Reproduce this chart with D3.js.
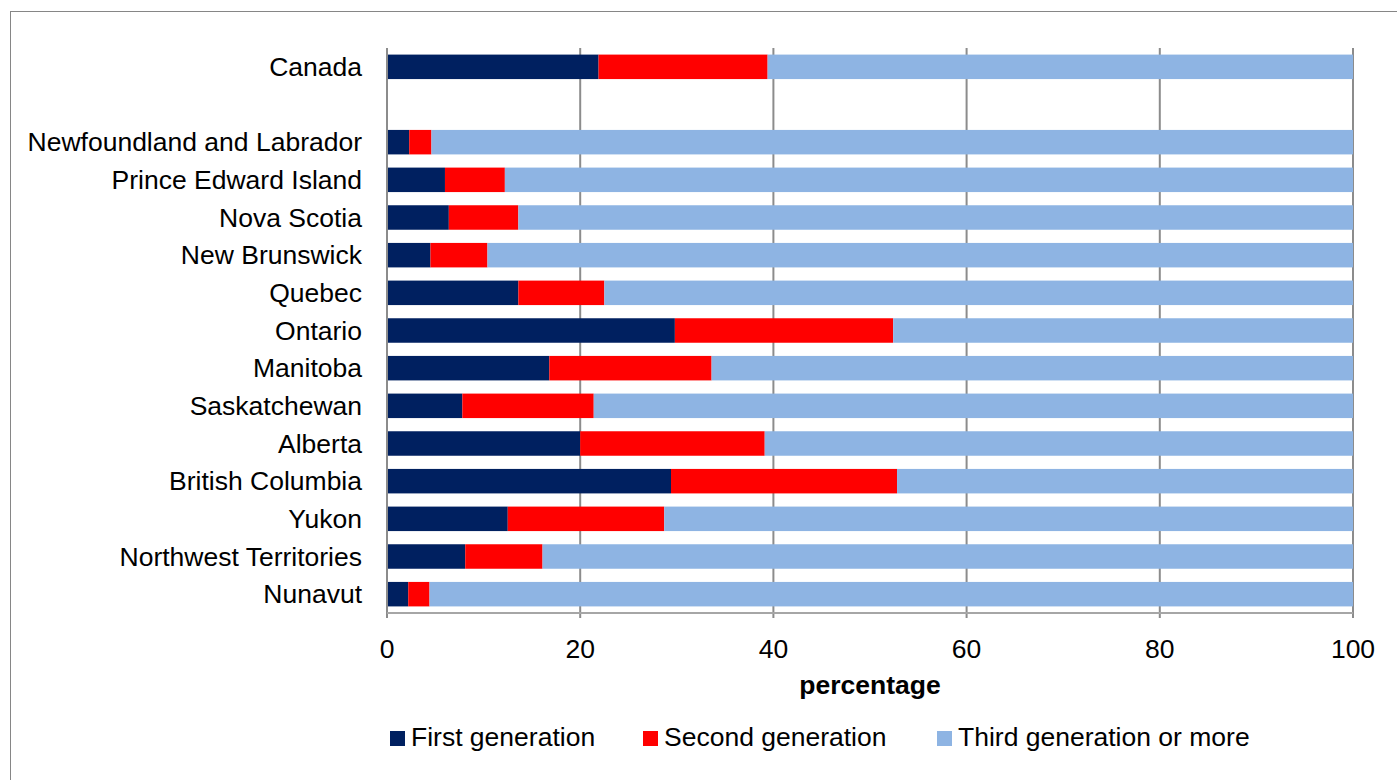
<!DOCTYPE html>
<html>
<head>
<meta charset="utf-8">
<script src="https://cdn.jsdelivr.net/npm/d3@7"></script>
<style>
  body { margin: 0; background: #fff; }
  text { font-family: "Liberation Sans", Arial, sans-serif; }
</style>
</head>
<body>
<script>
var width = 1397
var height = 780
var margin = { left: 387, right: 44, top: 48, bottom: 167 }

var innerWidth = width - margin.left - margin.right
var innerHeight = height - margin.top - margin.bottom
var fontSize = 26.5

// data (percent)
var regions = ['Canada', '', 'Newfoundland and Labrador', 'Prince Edward Island', 'Nova Scotia', 'New Brunswick',
    'Quebec', 'Ontario', 'Manitoba', 'Saskatchewan', 'Alberta', 'British Columbia', 'Yukon',
    'Northwest Territories', 'Nunavut']
var firstGen = [21.9, null, 2.3, 6.0, 6.4, 4.5, 13.6, 29.8, 16.8, 7.8, 20.0, 29.4, 12.5, 8.1, 2.2]
var secondGen = [17.5, null, 2.3, 6.2, 7.2, 5.9, 8.9, 22.6, 16.8, 13.6, 19.1, 23.4, 16.2, 8.0, 2.2]
var thirdGen = [60.6, null, 95.4, 87.8, 86.4, 89.6, 77.5, 47.6, 66.4, 78.6, 60.9, 47.2, 71.3, 83.9, 95.6]
var seriesNames = ['First generation', 'Second generation', 'Third generation or more']
var colors = ['#002060', '#ff0000', '#8eb4e3']
var xTicks = [0, 20, 40, 60, 80, 100]

var rows = regions.map((r, i) => ({ key: 'r' + i, region: r, v0: firstGen[i], v1: secondGen[i], v2: thirdGen[i] }))
    .filter(d => d.v0 != null)

var svg = d3.select('body').append('svg').attr('width', width).attr('height', height)

// outer chart border
svg.append('rect').attr('x', 10.5).attr('y', 11.5).attr('width', 1420).attr('height', 800)
    .attr('fill', 'none').attr('stroke', '#868686').attr('stroke-width', 1)

var g = svg.append('g').attr('transform', `translate(${margin.left}, ${margin.top})`)

var xScale = d3.scaleLinear().domain([0, 100]).range([0, innerWidth])
var yScale = d3.scaleBand().domain(regions.map((r, i) => 'r' + i)).range([0, innerHeight]).paddingInner(0.35).paddingOuter(0.175)

// gridlines
g.append('g').selectAll('line').data(xTicks).enter().append('line')
    .attr('x1', d => xScale(d)).attr('x2', d => xScale(d))
    .attr('y1', 0).attr('y2', innerHeight + 5)
    .attr('stroke', '#8c8c8c').attr('stroke-width', 2)

var stack = d3.stack().keys(['v0', 'v1', 'v2'])(rows)

g.append('g').selectAll('g').data(stack).enter().append('g')
    .attr('fill', (d, i) => colors[i])
    .selectAll('rect').data(d => d).enter().append('rect')
    .attr('x', d => xScale(d[0]))
    .attr('width', d => xScale(d[1]) - xScale(d[0]))
    .attr('y', d => yScale(d.data.key))
    .attr('height', yScale.bandwidth())

// axis lines
g.append('line').attr('x1', 0).attr('x2', 0).attr('y1', 0).attr('y2', innerHeight)
    .attr('stroke', '#8c8c8c').attr('stroke-width', 2)
g.append('line').attr('x1', 0).attr('x2', innerWidth).attr('y1', innerHeight).attr('y2', innerHeight)
    .attr('stroke', '#a6a6a6').attr('stroke-width', 2)

// category labels
g.append('g').selectAll('text').data(rows).enter().append('text')
    .attr('x', -25).attr('y', d => yScale(d.key) + yScale.bandwidth() / 2)
    .attr('dy', '0.35em').attr('text-anchor', 'end')
    .attr('font-size', fontSize).attr('fill', '#000')
    .text(d => d.region)

// x tick labels
g.append('g').selectAll('text').data(xTicks).enter().append('text')
    .attr('x', d => xScale(d)).attr('y', innerHeight + 45)
    .attr('text-anchor', 'middle').attr('font-size', fontSize).attr('fill', '#000')
    .text(d => d)

g.append('text').attr('x', innerWidth / 2).attr('y', innerHeight + 81)
    .attr('text-anchor', 'middle').attr('font-size', fontSize).attr('font-weight', 'bold')
    .text('percentage')

// legend
var legendX = [390, 643, 937]
var legend = svg.append('g').selectAll('g').data(seriesNames).enter().append('g')
    .attr('transform', (d, i) => `translate(${legendX[i]}, 746)`)
legend.append('rect').attr('x', 0).attr('y', -15).attr('width', 15).attr('height', 15)
    .attr('fill', (d, i) => colors[i])
legend.append('text').attr('x', 21).attr('y', 0)
    .attr('font-size', fontSize).text(d => d)
</script>
</body>
</html>
